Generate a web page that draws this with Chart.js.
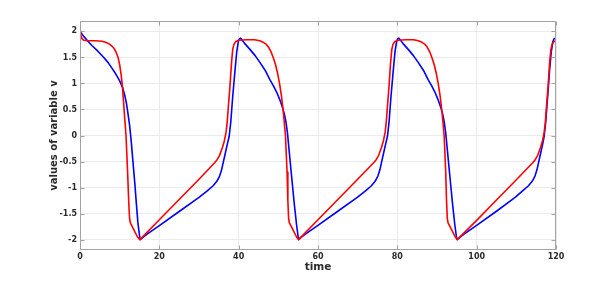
<!DOCTYPE html>
<html>
<head>
<meta charset="utf-8">
<script src="https://cdn.jsdelivr.net/npm/chart.js@4/dist/chart.umd.min.js"></script>
<style>
  html, body { margin: 0; padding: 0; background: #ffffff; }
  #wrap { width: 615px; height: 281px; }
</style>
</head>
<body>
<div id="wrap"><canvas id="c" width="615" height="281"></canvas></div>
<script>
const xTicks = [0, 20, 40, 60, 80, 100, 120];
const yTicks = [-2, -1.5, -1, -0.5, 0, 0.5, 1, 1.5, 2];

const redT = [0, 0.2, 0.5, 1, 2, 4, 5.5, 6.5, 7.3, 8, 8.6, 9.1, 9.6, 10.0, 10.4, 10.7, 11.0, 11.3, 11.6, 12.0, 12.3, 12.5, 12.7, 13.5, 14.5, 15.1,
  20, 25, 30, 34.0, 34.6, 35.2, 35.9, 36.4, 36.8, 37.1, 37.4, 37.8, 38.2, 38.5, 38.8, 39.2, 40, 42, 44, 45.3, 46.2, 47, 47.6, 48.2, 48.8, 49.3, 49.8, 50.3, 50.8, 51.3, 51.8, 52.2, 52.4, 52.6, 52.8, 53.6, 54.6, 55.1,
  60, 65, 70, 74.1, 74.7, 75.3, 76.0, 76.5, 76.9, 77.2, 77.5, 77.9, 78.3, 78.6, 78.9, 79.3, 80.1, 82.1, 84.1, 85.3, 86.2, 87.0, 87.6, 88.2, 88.8, 89.3, 89.8, 90.3, 90.8, 91.3, 91.8, 92.2, 92.4, 92.6, 92.8, 93.6, 94.6, 95.1,
  100, 105, 110, 114.2, 114.8, 115.4, 116.1, 116.6, 117.0, 117.3, 117.6, 118.0, 118.4, 118.7, 119.0, 119.4, 120];
const redV = [2.0, 1.93, 1.86, 1.83, 1.82, 1.82, 1.81, 1.79, 1.76, 1.72, 1.67, 1.60, 1.50, 1.36, 1.15, 0.94, 0.62, 0.3, 0, -0.7, -1.3, -1.6, -1.68, -1.80, -1.95, -2.0,
  -1.62, -1.23, -0.84, -0.52, -0.46, -0.38, -0.23, -0.1, 0.05, 0.25, 0.55, 0.94, 1.4, 1.65, 1.75, 1.80, 1.83, 1.84, 1.84, 1.82, 1.79, 1.75, 1.69, 1.60, 1.48, 1.36, 1.20, 1.0, 0.75, 0.42, 0, -0.7, -1.25, -1.6, -1.68, -1.80, -1.95, -2.0,
  -1.62, -1.23, -0.84, -0.52, -0.46, -0.38, -0.23, -0.1, 0.05, 0.25, 0.55, 0.94, 1.4, 1.65, 1.75, 1.80, 1.83, 1.84, 1.84, 1.82, 1.79, 1.75, 1.69, 1.60, 1.48, 1.36, 1.20, 1.0, 0.75, 0.42, 0, -0.7, -1.25, -1.6, -1.68, -1.80, -1.95, -2.0,
  -1.63, -1.24, -0.85, -0.52, -0.46, -0.38, -0.23, -0.1, 0.05, 0.25, 0.55, 0.94, 1.4, 1.65, 1.75, 1.80, 1.82];

const blueT = [0, 1, 2, 3, 4.5, 6, 7.1, 8.0, 8.7, 9.4, 10, 10.7, 11.2, 11.7, 12.1, 12.5, 12.9, 13.4, 13.8, 14.2, 14.6, 15.0, 15.2,
  16, 17, 20, 25, 30, 32, 33.5, 34.5, 35.2, 35.7, 36.1, 36.6, 37.1, 37.6, 38.0, 38.5, 39.1, 39.5, 39.9, 40.2, 40.5, 40.9, 41.5, 42.9, 44.2, 45.4, 46.7, 47.9, 48.8, 49.6, 50.4, 51.0, 51.5, 51.9, 52.3, 52.7, 53.3, 54.0, 54.6, 55.0, 55.1,
  55.9, 56.9, 59.9, 64.9, 69.9, 71.9, 73.4, 74.4, 75.1, 75.6, 76.0, 76.5, 77.0, 77.5, 77.9, 78.4, 79.0, 79.4, 79.8, 80.1, 80.4, 80.8, 81.4, 82.8, 84.1, 85.3, 86.6, 87.8, 88.7, 89.5, 90.3, 90.9, 91.4, 91.8, 92.2, 92.6, 93.2, 93.9, 94.5, 94.9, 95.1,
  95.9, 96.9, 99.9, 104.9, 109.7, 111.5, 113.0, 114.0, 114.7, 115.2, 115.6, 116.1, 116.6, 117.0, 117.4, 117.9, 118.4, 118.8, 119.2, 119.5, 120];
const blueV = [2.0, 1.9, 1.81, 1.73, 1.62, 1.50, 1.40, 1.30, 1.22, 1.13, 1.05, 0.93, 0.80, 0.62, 0.42, 0.2, -0.1, -0.55, -0.9, -1.3, -1.68, -1.92, -2.0,
  -1.95, -1.89, -1.73, -1.46, -1.19, -1.07, -0.97, -0.88, -0.78, -0.66, -0.52, -0.35, -0.18, -0.02, 0.25, 0.75, 1.27, 1.6, 1.80, 1.86, 1.87, 1.83, 1.77, 1.65, 1.53, 1.40, 1.25, 1.07, 0.95, 0.83, 0.68, 0.55, 0.42, 0.27, 0.05, -0.27, -0.75, -1.3, -1.72, -1.95, -2.0,
  -1.95, -1.89, -1.73, -1.46, -1.19, -1.07, -0.97, -0.88, -0.78, -0.66, -0.52, -0.35, -0.18, -0.02, 0.25, 0.75, 1.27, 1.6, 1.80, 1.86, 1.87, 1.83, 1.77, 1.65, 1.53, 1.40, 1.25, 1.07, 0.95, 0.83, 0.68, 0.55, 0.42, 0.27, 0.05, -0.27, -0.75, -1.3, -1.72, -1.95, -2.0,
  -1.95, -1.89, -1.73, -1.46, -1.19, -1.07, -0.97, -0.88, -0.78, -0.66, -0.52, -0.35, -0.18, -0.02, 0.25, 0.75, 1.27, 1.6, 1.80, 1.86, 1.87];

const toPts = (ts, vs) => ts.map((t, i) => ({ x: t, y: vs[i] }));

const AXIS_COLOR = '#a3a3a3';
const TEXT_COLOR = '#2b2b2b';

const framePlugin = {
  id: 'frame',
  afterDatasetsDraw(chart) {
    const { ctx, chartArea: a, scales } = chart;
    ctx.save();
    ctx.strokeStyle = AXIS_COLOR;
    ctx.lineWidth = 1;
    const L = Math.round(a.left) + 0.5, R = Math.round(a.right) - 0.5;
    const T = Math.round(a.top) + 0.5, B = Math.round(a.bottom) - 0.5;
    ctx.beginPath();
    ctx.rect(L, T, R - L, B - T);
    const tl = 4;
    xTicks.forEach(v => {
      const px = Math.round(scales.x.getPixelForValue(v)) + 0.5;
      ctx.moveTo(px, B); ctx.lineTo(px, B - tl);
      ctx.moveTo(px, T); ctx.lineTo(px, T + tl);
    });
    yTicks.forEach(v => {
      const py = Math.round(scales.y.getPixelForValue(v)) + 0.5;
      ctx.moveTo(L, py); ctx.lineTo(L + tl, py);
      ctx.moveTo(R, py); ctx.lineTo(R - tl, py);
    });
    ctx.stroke();
    ctx.restore();
  }
};

new Chart(document.getElementById('c'), {
  type: 'line',
  data: {
    datasets: [
      { label: 'red', data: toPts(redT, redV), borderColor: '#ff0000', borderWidth: 1.6,
        pointRadius: 0, fill: false, tension: 0, borderJoinStyle: 'round' },
      { label: 'blue', data: toPts(blueT, blueV), borderColor: '#0000ff', borderWidth: 1.6,
        pointRadius: 0, fill: false, tension: 0, borderJoinStyle: 'round' }
    ]
  },
  options: {
    responsive: false,
    animation: false,
    devicePixelRatio: 1,
    layout: { padding: { left: 48, right: 59, top: 21, bottom: 0 } },
    plugins: { legend: { display: false }, tooltip: { enabled: false } },
    scales: {
      x: {
        type: 'linear', min: 0, max: 120,
        afterBuildTicks: s => { s.ticks = xTicks.map(v => ({ value: v })); },
        afterFit: s => { s.height = 31; },
        grid: { color: '#ebebeb', drawTicks: false, lineWidth: 1 },
        border: { display: false },
        ticks: { padding: 2, color: TEXT_COLOR, maxRotation: 0, autoSkip: false,
          font: { family: 'DejaVu Sans', size: 8, weight: 'bold' },
          callback: v => String(v) },
        title: { display: true, text: 'time', color: TEXT_COLOR,
          padding: { top: 0, bottom: 7 },
          font: { family: 'DejaVu Sans', size: 10.5, weight: 'bold' } }
      },
      y: {
        type: 'linear', min: -2.2, max: 2.2,
        afterBuildTicks: s => { s.ticks = yTicks.map(v => ({ value: v })); },
        afterFit: s => { s.width = 32; },
        grid: { color: '#ebebeb', drawTicks: false, lineWidth: 1 },
        border: { display: false },
        ticks: { padding: 3, color: TEXT_COLOR, autoSkip: false,
          font: { family: 'DejaVu Sans', size: 8, weight: 'bold' },
          callback: v => String(v) },
        title: { display: true, text: 'values of variable v', color: TEXT_COLOR,
          padding: { top: 0, bottom: 0 },
          font: { family: 'DejaVu Sans', size: 10, weight: 'bold' } }
      }
    }
  },
  plugins: [framePlugin]
});
</script>
</body>
</html>
